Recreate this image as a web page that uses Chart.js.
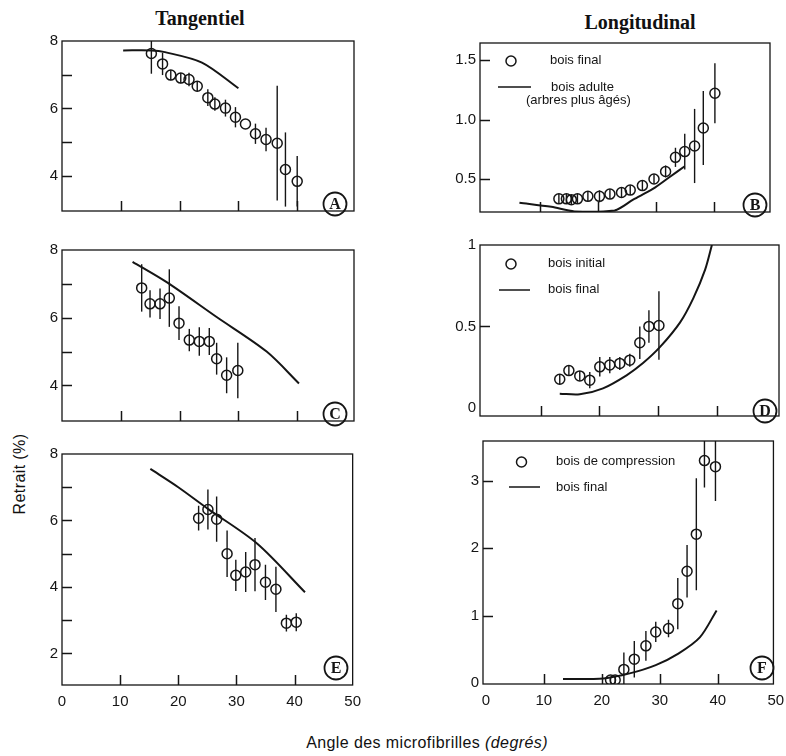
<!DOCTYPE html>
<html>
<head>
<meta charset="utf-8">
<script src="https://cdn.jsdelivr.net/npm/chart.js@4.4.1/dist/chart.umd.min.js"></script>
<style>
  body { margin: 0; background: #fff; }
  #wrap { position: relative; width: 786px; height: 756px; overflow: hidden; }
  #wrap canvas { position: absolute; }
  .t { position: absolute; color: #111; white-space: nowrap; transform: translate(-50%, -50%); }
  .col { font: bold 20px "Liberation Serif", "Times New Roman", serif; }
  .ax { font: 16px "Liberation Sans", Arial, sans-serif; letter-spacing: 0.4px; }
</style>
</head>
<body>
<div id="wrap">
  <div class="t col" style="left:200px;top:18px">Tangentiel</div>
  <div class="t col" style="left:640px;top:22px">Longitudinal</div>
  <div class="t ax" style="left:20px;top:474px;transform:translate(-50%,-50%) rotate(-90deg)">Retrait (%)</div>
  <div class="t ax" style="left:427px;top:743px">Angle des microfibrilles <i>(degrés)</i></div>
</div>
<script>
// --- Tangentiel ---
var angleA = [15.2, 17.1, 18.5, 20.2, 21.6, 23.0, 24.8, 26.0, 27.8, 29.5, 31.2, 32.9, 34.7, 36.6, 38.0, 40.0];
var retraitA = [7.63, 7.32, 6.99, 6.90, 6.86, 6.66, 6.32, 6.13, 6.01, 5.74, 5.54, 5.25, 5.08, 4.97, 4.19, 3.84];
var errA = [0.6, 0.33, 0.15, 0.15, 0.2, 0.15, 0.25, 0.2, 0.25, 0.3, 0, 0.3, 0.35, 1.7, 1.1, 0.75];
var curveAngleA = [10.4, 15.2, 17.5, 23.8, 30.0];
var curveA = [7.72, 7.72, 7.67, 7.36, 6.60];

var angleC = [13.55, 14.97, 16.67, 18.25, 19.9, 21.65, 23.35, 25.05, 26.3, 28.0, 29.9];
var retraitC = [6.88, 6.41, 6.41, 6.58, 5.84, 5.34, 5.30, 5.30, 4.79, 4.30, 4.44];
var errC = [0.7, 0.4, 0.45, 0.85, 0.5, 0.33, 0.42, 0.4, 0.47, 0.53, 0.82];
var curveAngleC = [12.0, 17.8, 26.3, 34.8, 40.3];
var curveC = [7.65, 7.05, 6.02, 5.0, 4.06];

var angleE = [23.5, 25.1, 26.6, 28.4, 29.9, 31.6, 33.2, 35.0, 36.8, 38.6, 40.3];
var retraitE = [6.07, 6.33, 6.04, 5.0, 4.35, 4.45, 4.67, 4.14, 3.93, 2.91, 2.94];
var errE = [0.37, 0.6, 0.68, 0.7, 0.47, 0.6, 0.8, 0.53, 0.68, 0.25, 0.27];
var curveAngleE = [15.2, 20, 25.1, 33.6, 41.8];
var curveE = [7.55, 7.0, 6.35, 5.3, 3.84];

// --- Longitudinal ---
var angleB = [13.3, 14.6, 15.45, 16.5, 18.3, 20.3, 22.1, 24.1, 25.6, 27.7, 29.7, 31.7, 33.4, 35.0, 36.7, 38.2, 40.2];
var retraitB = [0.337, 0.337, 0.33, 0.337, 0.358, 0.358, 0.377, 0.39, 0.41, 0.448, 0.503, 0.566, 0.684, 0.732, 0.779, 0.929, 1.22];
var errB = [0.04, 0.04, 0.04, 0.04, 0.04, 0.05, 0.04, 0.04, 0.04, 0.04, 0.04, 0.05, 0.08, 0.15, 0.31, 0.31, 0.25];
var curveAngleB = [6.5, 12, 16, 22.9, 26.1, 29.5, 32.4, 35.0];
var curveB = [0.305, 0.27, 0.232, 0.24, 0.33, 0.42, 0.52, 0.61];

var angleD = [13.25, 14.8, 16.65, 18.35, 20.05, 21.75, 23.45, 25.15, 26.85, 28.4, 30.1];
var retraitD = [0.176, 0.229, 0.196, 0.17, 0.252, 0.263, 0.273, 0.293, 0.40, 0.5, 0.506];
var errD = [0.03, 0.03, 0.03, 0.05, 0.06, 0.05, 0.04, 0.04, 0.1, 0.1, 0.21];
var curveAngleD = [13.25, 16.65, 20.6, 24.6, 27.4, 30.3, 33.7, 35.95, 37.95, 39.1];
var curveD = [0.087, 0.083, 0.12, 0.2, 0.275, 0.374, 0.525, 0.674, 0.849, 1.0];

var angleF = [21.5, 22.3, 23.8, 25.6, 27.6, 29.3, 31.5, 33.1, 34.7, 36.3, 37.7, 39.6];
var retraitF = [0.049, 0.049, 0.206, 0.358, 0.555, 0.761, 0.811, 1.18, 1.66, 2.21, 3.30, 3.21];
var errF = [0.05, 0.05, 0.25, 0.27, 0.22, 0.15, 0.13, 0.38, 0.39, 0.83, 0.4, 0.51];
var curveAngleF = [13.3, 20.3, 24.8, 29.3, 33.2, 36.9, 39.8];
var curveF = [0.063, 0.073, 0.147, 0.27, 0.44, 0.68, 1.08];

// ticks
var xTickLabels = [0, 10, 20, 30, 40, 50];
var xTickMarks = [10, 20, 30, 40];
var yTicksTan = [4, 6, 8];
var yMarksTan = [4, 5, 6, 7];
var yTicksE = [2, 4, 6, 8];
var yMarksE = [2, 3, 4, 5, 6, 7];
var yTicksB = [0.5, 1.0, 1.5];
var yTextB = ["0.5", "1.0", "1.5"];
var yTicksD = [0, 0.5, 1];
var yTextD = ["0", "0.5", "1"];
var yMarksD = [0.5];
var yTicksF = [0, 1, 2, 3];
var yMarksF = [1, 2, 3];

var INK = '#151515';
var SANS = '"Liberation Sans", Arial, sans-serif';

function pts(xs, ys) {
  return xs.map(function(x, i) { return { x: x, y: ys[i] }; });
}

var panels = [
  { letter: 'A', box: [62, 40, 292, 180], x: [0, 49.66], y: [2.96, 8], showX: false,
    ax: angleA, ay: retraitA, err: errA, cx: curveAngleA, cy: curveA,
    yTicks: yTicksTan, yText: null, yMarks: yMarksTan, letterPos: [273, 163] },
  { letter: 'C', box: [62, 249, 292, 181], x: [0, 49.66], y: [2.95, 8], showX: false,
    ax: angleC, ay: retraitC, err: errC, cx: curveAngleC, cy: curveC,
    yTicks: yTicksTan, yText: null, yMarks: yMarksTan, letterPos: [273, 164] },
  { letter: 'E', box: [62, 453, 295, 232], x: [0, 50], y: [1.05, 8], showX: true,
    ax: angleE, ay: retraitE, err: errE, cx: curveAngleE, cy: curveE,
    yTicks: yTicksE, yText: null, yMarks: yMarksE, letterPos: [274, 214] },
  { letter: 'B', box: [480, 42, 290, 179], x: [-0.3, 49.7], y: [0.227, 1.64], showX: false,
    ax: angleB, ay: retraitB, err: errB, cx: curveAngleB, cy: curveB,
    yTicks: yTicksB, yText: yTextB, yMarks: yTicksB, letterPos: [275, 162],
    legend: [
      { kind: 'dot', at: [31, 18], text: 'bois final', tx: 70, ty: 17 },
      { kind: 'line', at: [18, 51, 44], text: 'bois adulte', tx: 71, ty: 44 },
      { kind: 'none', text: '(arbres plus âgés)', tx: 46, ty: 57 }
    ] },
  { letter: 'D', box: [480, 244, 299, 181], x: [-0.3, 50.5], y: [-0.05, 1.0], showX: false,
    ax: angleD, ay: retraitD, err: errD, cx: curveAngleD, cy: curveD,
    yTicks: yTicksD, yText: yTextD, yMarks: yMarksD, letterPos: [285, 166],
    legend: [
      { kind: 'dot', at: [31, 19], text: 'bois initial', tx: 68, ty: 18 },
      { kind: 'line', at: [19, 50, 45], text: 'bois final', tx: 68, ty: 44 }
    ] },
  { letter: 'F', box: [483, 440, 297, 244], x: [-0.5, 49.6], y: [-0.01, 3.59], showX: true,
    ax: angleF, ay: retraitF, err: errF, cx: curveAngleF, cy: curveF,
    yTicks: yTicksF, yText: null, yMarks: yMarksF, letterPos: [279, 227],
    legend: [
      { kind: 'dot', at: [38.5, 21], text: 'bois de compression', tx: 73, ty: 20 },
      { kind: 'line', at: [26, 57, 46], text: 'bois final', tx: 73, ty: 46 }
    ] }
];

function makePanel(p) {
  var L = p.box[0], T = p.box[1], W = p.box[2], H = p.box[3];
  var padL = 4, yW = 40, padT = 12, padR = 12, xH = p.showX ? 30 : 0;
  var cv = document.createElement('canvas');
  cv.width = W + padL + yW + padR;
  cv.height = H + padT + xH + 4;
  cv.style.left = (L - padL - yW) + 'px';
  cv.style.top = (T - padT) + 'px';
  document.getElementById('wrap').appendChild(cv);

  var deco = {
    id: 'deco',
    beforeDatasetsDraw: function(chart) {
      var c = chart.ctx, a = chart.chartArea, xs = chart.scales.x, ys = chart.scales.y;
      c.save();
      c.beginPath();
      c.rect(a.left, a.top, a.right - a.left, a.bottom - a.top);
      c.clip();
      c.strokeStyle = INK;
      c.lineWidth = 1.4;
      p.ax.forEach(function(x, i) {
        var e = p.err[i];
        if (!e) return;
        var px = xs.getPixelForValue(x);
        c.beginPath();
        c.moveTo(px, ys.getPixelForValue(p.ay[i] - e));
        c.lineTo(px, ys.getPixelForValue(p.ay[i] + e));
        c.stroke();
      });
      c.restore();
    },
    afterDraw: function(chart) {
      var c = chart.ctx, a = chart.chartArea, xs = chart.scales.x, ys = chart.scales.y;
      c.save();
      c.strokeStyle = INK;
      c.lineWidth = 1.3;
      c.strokeRect(a.left, a.top, a.right - a.left, a.bottom - a.top);
      // inward tick marks
      c.lineWidth = 1.5;
      xTickMarks.forEach(function(v) {
        var px = Math.round(xs.getPixelForValue(v)) + 0.5;
        c.beginPath(); c.moveTo(px, a.bottom); c.lineTo(px, a.bottom - 10); c.stroke();
      });
      p.yMarks.forEach(function(v) {
        var py = Math.round(ys.getPixelForValue(v)) + 0.5;
        c.beginPath(); c.moveTo(a.left, py); c.lineTo(a.left + 10, py); c.stroke();
      });
      // legend
      c.fillStyle = INK;
      c.font = '13px ' + SANS;
      c.textBaseline = 'middle';
      c.textAlign = 'left';
      (p.legend || []).forEach(function(it) {
        if (it.kind === 'dot') {
          c.lineWidth = 1.5;
          c.beginPath(); c.arc(a.left + it.at[0], a.top + it.at[1], 5, 0, Math.PI * 2); c.stroke();
        } else if (it.kind === 'line') {
          c.lineWidth = 1.5;
          c.beginPath(); c.moveTo(a.left + it.at[0], a.top + it.at[2]); c.lineTo(a.left + it.at[1], a.top + it.at[2]); c.stroke();
        }
        c.fillText(it.text, a.left + it.tx, a.top + it.ty);
      });
      // circled panel letter
      var lx = a.left + p.letterPos[0], ly = a.top + p.letterPos[1];
      c.lineWidth = 1.8;
      c.beginPath(); c.arc(lx, ly, 11.5, 0, Math.PI * 2); c.stroke();
      c.font = 'bold 16px "Liberation Serif", "Times New Roman", serif';
      c.textAlign = 'center';
      c.fillText(p.letter, lx, ly + 1);
      c.restore();
    }
  };

  new Chart(cv.getContext('2d'), {
    data: {
      datasets: [
        { type: 'line', data: pts(p.cx, p.cy), borderColor: INK, borderWidth: 2,
          pointRadius: 0, tension: 0.3, fill: false },
        { type: 'scatter', data: pts(p.ax, p.ay), borderColor: INK, borderWidth: 1.5,
          backgroundColor: 'rgba(0,0,0,0)', pointRadius: 5, pointStyle: 'circle' }
      ]
    },
    options: {
      responsive: false,
      animation: false,
      events: [],
      layout: { padding: { left: padL, top: padT, right: padR, bottom: 4 } },
      plugins: { legend: { display: false }, tooltip: { enabled: false } },
      scales: {
        x: {
          type: 'linear', min: p.x[0], max: p.x[1], display: p.showX,
          grid: { display: false, drawTicks: false }, border: { display: false },
          ticks: { padding: 8, color: INK, font: { family: SANS, size: 15 }, maxRotation: 0, autoSkip: false },
          afterBuildTicks: function(s) { s.ticks = xTickLabels.map(function(v) { return { value: v }; }); },
          afterFit: function(s) { s.height = xH; }
        },
        y: {
          type: 'linear', min: p.y[0], max: p.y[1],
          grid: { display: false, drawTicks: false }, border: { display: false },
          ticks: {
            padding: 4, color: INK, font: { family: SANS, size: 15 }, autoSkip: false,
            callback: function(v, i) { return p.yText ? p.yText[i] : String(v); }
          },
          afterBuildTicks: function(s) { s.ticks = p.yTicks.map(function(v) { return { value: v }; }); },
          afterFit: function(s) { s.width = yW; }
        }
      }
    },
    plugins: [deco]
  });
}

panels.forEach(makePanel);
</script>
</body>
</html>
